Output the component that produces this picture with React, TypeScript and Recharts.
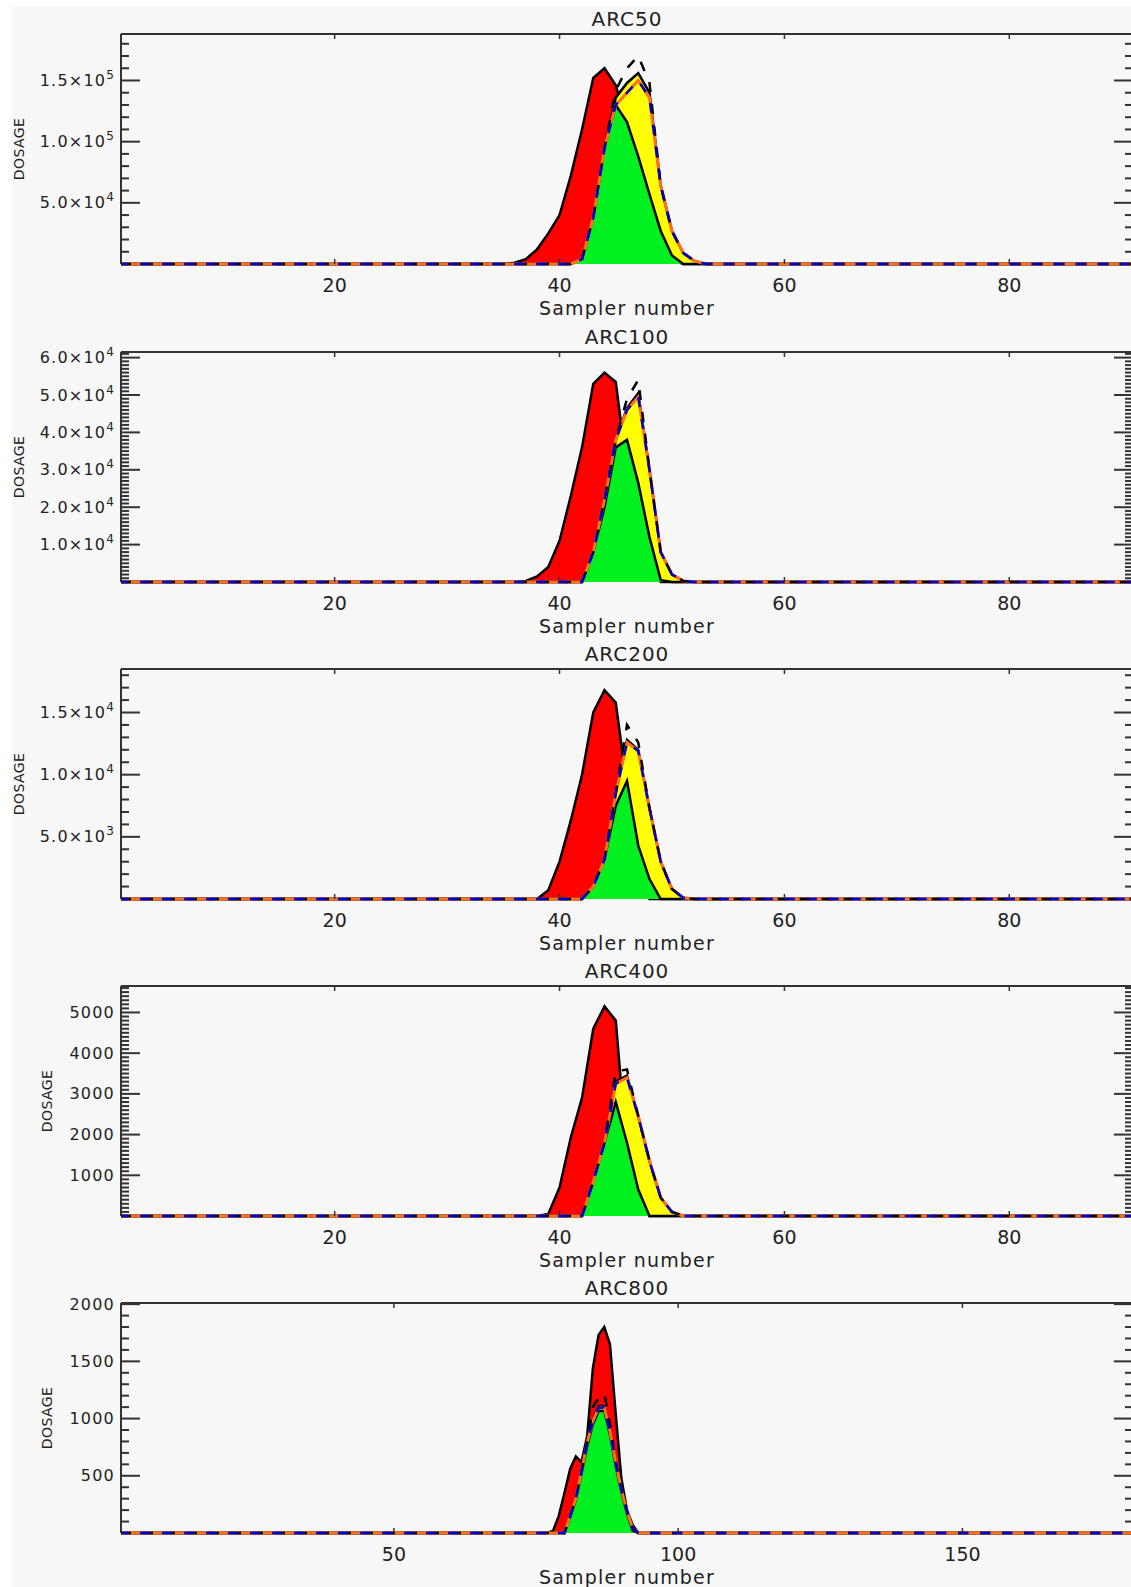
import { Area, ComposedChart, Line, XAxis, YAxis, ReferenceLine } from "recharts"

// sampler-number windows: each array starts at the given sampler, zeros elsewhere
const arc50Start = 35
const arc50Red = [0, 1000, 4000, 12000, 25000, 40000, 72000, 110000, 152000, 160000, 146000, 115000, 75000, 40000, 15000, 4000, 0, 0, 0]
const arc50Yellow = [0, 0, 0, 0, 0, 0, 0, 4000, 38000, 95000, 136000, 148000, 156000, 140000, 64000, 27000, 9000, 2500, 0]
const arc50Green = [0, 0, 0, 0, 0, 0, 0, 4000, 38000, 95000, 130000, 116000, 88000, 57000, 27000, 7000, 0, 0, 0]
const arc50DashBlack = [0, 0, 0, 0, 0, 0, 0, 4000, 38000, 95000, 142000, 160000, 170000, 148000, 64000, 27000, 9000, 2500, 0]
const arc50DashMid = [0, 0, 0, 0, 0, 0, 0, 4000, 38000, 95000, 130000, 140000, 150000, 136000, 64000, 27000, 9000, 2500, 0]

const arc100Start = 35
const arc100Red = [0, 0, 300, 1500, 4000, 11000, 23000, 36000, 53000, 56000, 53500, 30000, 15000, 4000, 0, 0, 0, 0, 0]
const arc100Yellow = [0, 0, 0, 0, 0, 0, 0, 0, 8000, 22000, 38000, 46500, 50500, 30000, 8000, 2000, 300, 0, 0]
const arc100Green = [0, 0, 0, 0, 0, 0, 0, 0, 8000, 20000, 36000, 38000, 26500, 12000, 500, 0, 0, 0, 0]
const arc100DashBlack = [0, 0, 0, 0, 0, 0, 0, 0, 8000, 22000, 38000, 49000, 54000, 30000, 8000, 2000, 300, 0, 0]
const arc100DashMid = [0, 0, 0, 0, 0, 0, 0, 0, 8000, 22000, 38000, 46000, 49500, 30000, 8000, 2000, 300, 0, 0]

const arc200Start = 35
const arc200Red = [0, 0, 0, 0, 700, 3000, 6300, 10000, 15000, 16800, 15800, 9000, 3000, 0, 0, 0, 0, 0, 0]
const arc200Yellow = [0, 0, 0, 0, 0, 0, 0, 0, 1000, 3200, 8500, 12800, 12000, 7300, 3000, 800, 100, 0, 0]
const arc200Green = [0, 0, 0, 0, 0, 0, 0, 0, 1000, 3200, 7500, 9500, 4300, 1600, 0, 0, 0, 0, 0]
const arc200DashBlack = [0, 0, 0, 0, 0, 0, 0, 0, 1000, 3200, 8500, 14000, 12600, 7300, 3000, 800, 100, 0, 0]
const arc200DashMid = [0, 0, 0, 0, 0, 0, 0, 0, 1000, 3200, 8500, 12600, 11900, 7300, 3000, 800, 100, 0, 0]

const arc400Start = 35
const arc400Red = [0, 0, 0, 0, 50, 700, 1930, 2900, 4600, 5150, 4800, 1500, 300, 0, 0, 0, 0, 0, 0]
const arc400Yellow = [0, 0, 0, 0, 0, 0, 0, 0, 850, 1800, 3300, 3450, 2450, 1350, 450, 100, 0, 0, 0]
const arc400Green = [0, 0, 0, 0, 0, 0, 0, 0, 850, 1800, 2800, 1800, 650, 0, 0, 0, 0, 0, 0]
const arc400DashBlack = [0, 0, 0, 0, 0, 0, 0, 0, 850, 1800, 3550, 3600, 2450, 1350, 450, 100, 0, 0, 0]
const arc400DashMid = [0, 0, 0, 0, 0, 0, 0, 0, 850, 1800, 3250, 3400, 2450, 1350, 450, 100, 0, 0, 0]

const arc800Start = 76
const arc800Red = [0, 0, 20, 150, 350, 560, 670, 620, 850, 1440, 1730, 1800, 1650, 1050, 480, 200, 70, 0, 0]
const arc800Yellow = [0, 0, 0, 0, 0, 150, 300, 540, 790, 990, 1110, 1110, 900, 620, 380, 190, 40, 0, 0]
const arc800Green = [0, 0, 0, 0, 0, 140, 290, 520, 760, 950, 1065, 1070, 860, 590, 360, 170, 20, 0, 0]
const arc800DashBlack = [0, 0, 0, 0, 0, 150, 300, 540, 790, 1100, 1180, 1220, 950, 620, 380, 190, 40, 0, 0]
const arc800DashMid = [0, 0, 0, 0, 0, 150, 300, 540, 790, 980, 1090, 1100, 890, 620, 380, 190, 40, 0, 0]

// axis ticks
const xTicksShort = [20, 40, 60, 80]
const xTicksLong = [50, 100, 150]

const arc50YLabels = [
  { value: 50000, mant: "5.0×10", exp: "4" },
  { value: 100000, mant: "1.0×10", exp: "5" },
  { value: 150000, mant: "1.5×10", exp: "5" },
]
const arc100YLabels = [
  { value: 10000, mant: "1.0×10", exp: "4" },
  { value: 20000, mant: "2.0×10", exp: "4" },
  { value: 30000, mant: "3.0×10", exp: "4" },
  { value: 40000, mant: "4.0×10", exp: "4" },
  { value: 50000, mant: "5.0×10", exp: "4" },
  { value: 60000, mant: "6.0×10", exp: "4" },
]
const arc200YLabels = [
  { value: 5000, mant: "5.0×10", exp: "3" },
  { value: 10000, mant: "1.0×10", exp: "4" },
  { value: 15000, mant: "1.5×10", exp: "4" },
]
const arc400YLabels = [
  { value: 1000, mant: "1000", exp: "" },
  { value: 2000, mant: "2000", exp: "" },
  { value: 3000, mant: "3000", exp: "" },
  { value: 4000, mant: "4000", exp: "" },
  { value: 5000, mant: "5000", exp: "" },
]
const arc800YLabels = [
  { value: 500, mant: "500", exp: "" },
  { value: 1000, mant: "1000", exp: "" },
  { value: 1500, mant: "1500", exp: "" },
  { value: 2000, mant: "2000", exp: "" },
]

type YLabel = { value: number; mant: string; exp: string }
type Panel = {
  title: string
  start: number
  red: number[]
  yellow: number[]
  green: number[]
  dashBlack: number[]
  dashMid: number[]
  xDomain: [number, number]
  xTicks: number[]
  yMax: number
  yMinor: number
  yLabels: YLabel[]
  top: number
  dosageX: number
}

const panels: Panel[] = [
  { title: "ARC50", start: arc50Start, red: arc50Red, yellow: arc50Yellow, green: arc50Green, dashBlack: arc50DashBlack, dashMid: arc50DashMid, xDomain: [1, 91], xTicks: xTicksShort, yMax: 188000, yMinor: 10000, yLabels: arc50YLabels, top: 34, dosageX: 19 },
  { title: "ARC100", start: arc100Start, red: arc100Red, yellow: arc100Yellow, green: arc100Green, dashBlack: arc100DashBlack, dashMid: arc100DashMid, xDomain: [1, 91], xTicks: xTicksShort, yMax: 61500, yMinor: 1000, yLabels: arc100YLabels, top: 352, dosageX: 19 },
  { title: "ARC200", start: arc200Start, red: arc200Red, yellow: arc200Yellow, green: arc200Green, dashBlack: arc200DashBlack, dashMid: arc200DashMid, xDomain: [1, 91], xTicks: xTicksShort, yMax: 18500, yMinor: 1000, yLabels: arc200YLabels, top: 669, dosageX: 19 },
  { title: "ARC400", start: arc400Start, red: arc400Red, yellow: arc400Yellow, green: arc400Green, dashBlack: arc400DashBlack, dashMid: arc400DashMid, xDomain: [1, 91], xTicks: xTicksShort, yMax: 5650, yMinor: 100, yLabels: arc400YLabels, top: 986, dosageX: 47 },
  { title: "ARC800", start: arc800Start, red: arc800Red, yellow: arc800Yellow, green: arc800Green, dashBlack: arc800DashBlack, dashMid: arc800DashMid, xDomain: [2, 180], xTicks: xTicksLong, yMax: 2010, yMinor: 100, yLabels: arc800YLabels, top: 1303, dosageX: 47 },
]

const PLOT_LEFT = 121
const PLOT_RIGHT = 1133
const PLOT_H = 230
const MARGIN_TOP = 34
const CHART_W = 1140
const CHART_H = 324
const FONT = "'DejaVu Sans', sans-serif"
const AXIS = "#333"

function buildRows(p: Panel) {
  const rows = []
  for (let n = p.xDomain[0]; n <= p.xDomain[1]; n++) {
    const i = n - p.start
    rows.push({
      n,
      red: p.red[i] ?? 0,
      yellow: p.yellow[i] ?? 0,
      green: p.green[i] ?? 0,
      dashBlack: p.dashBlack[i] ?? 0,
      dashMid: p.dashMid[i] ?? 0,
    })
  }
  return rows
}

function yTickValues(p: Panel) {
  const t: number[] = []
  for (let v = p.yMinor; v <= p.yMax; v += p.yMinor) t.push(v)
  return t
}

function YTick(props: any) {
  const { y, payload, labels } = props
  const lbl = (labels as YLabel[]).find((l) => l.value === payload.value)
  const len = lbl ? 19 : 8
  return (
    <g>
      <line x1={PLOT_LEFT} x2={PLOT_LEFT + len} y1={y} y2={y} stroke={AXIS} strokeWidth={2} />
      <line x1={PLOT_RIGHT - len} x2={PLOT_RIGHT} y1={y} y2={y} stroke={AXIS} strokeWidth={2} />
      {lbl && (
        <text x={PLOT_LEFT - 6} y={y + 5.5} textAnchor="end" fontSize={16} letterSpacing={1.2} fill="#222" fontFamily={FONT}>
          {lbl.mant}
          {lbl.exp && (
            <tspan dy={-7} fontSize={12}>
              {lbl.exp}
            </tspan>
          )}
        </text>
      )}
    </g>
  )
}

function XTick(props: any) {
  const { x, payload } = props
  const bottom = MARGIN_TOP + PLOT_H
  return (
    <g>
      <line x1={x} x2={x} y1={bottom} y2={bottom - 5} stroke={AXIS} strokeWidth={1.5} />
      <line x1={x} x2={x} y1={MARGIN_TOP} y2={MARGIN_TOP + 5} stroke={AXIS} strokeWidth={1.5} />
      <text x={x} y={bottom + 28} textAnchor="middle" fontSize={19} fill="#222" fontFamily={FONT}>
        {payload.value}
      </text>
    </g>
  )
}

function DosagePanel({ p }: { p: Panel }) {
  const rows = buildRows(p)
  const cx = (PLOT_LEFT + PLOT_RIGHT) / 2
  return (
    <div style={{ position: "absolute", left: 0, top: p.top - MARGIN_TOP, width: CHART_W, height: CHART_H }}>
      <ComposedChart width={CHART_W} height={CHART_H} data={rows} margin={{ top: MARGIN_TOP, right: CHART_W - PLOT_RIGHT, bottom: 0, left: 0 }}>
        <XAxis
          dataKey="n"
          type="number"
          domain={p.xDomain}
          ticks={p.xTicks}
          interval={0}
          height={CHART_H - MARGIN_TOP - PLOT_H}
          tickSize={0}
          tickMargin={0}
          axisLine={false}
          tick={(t: any) => <XTick {...t} />}
        />
        <YAxis
          type="number"
          domain={[0, p.yMax]}
          ticks={yTickValues(p)}
          interval={0}
          width={PLOT_LEFT}
          tickSize={0}
          tickMargin={0}
          axisLine={{ stroke: AXIS, strokeWidth: 2 }}
          tick={(t: any) => <YTick {...t} labels={p.yLabels} />}
        />
        <ReferenceLine y={p.yMax} stroke={AXIS} strokeWidth={2} />
        <Area type="linear" dataKey="red" fill="#ff0000" fillOpacity={1} stroke="#000" strokeWidth={2.5} isAnimationActive={false} dot={false} activeDot={false} />
        <Area type="linear" dataKey="yellow" fill="#ffff00" fillOpacity={1} stroke="#000" strokeWidth={2.5} isAnimationActive={false} dot={false} activeDot={false} />
        <Area type="linear" dataKey="green" fill="#00f020" fillOpacity={1} stroke="#000" strokeWidth={2.5} isAnimationActive={false} dot={false} activeDot={false} />
        <Line type="linear" dataKey="dashMid" stroke="#ff6f20" strokeWidth={3} dot={false} activeDot={false} isAnimationActive={false} />
        <Line type="linear" dataKey="dashBlack" stroke="#000" strokeWidth={2.5} strokeDasharray="10 12" dot={false} activeDot={false} isAnimationActive={false} />
        <Line type="linear" dataKey="dashMid" stroke="#0000cc" strokeWidth={2.5} strokeDasharray="10 12" strokeDashoffset={3} dot={false} activeDot={false} isAnimationActive={false} />
      </ComposedChart>
      <svg width={CHART_W} height={CHART_H} style={{ position: "absolute", left: 0, top: 0, pointerEvents: "none" }}>
        <text x={cx} y={MARGIN_TOP - 8} textAnchor="middle" fontSize={20} letterSpacing={1} fill="#222" fontFamily={FONT}>
          {p.title}
        </text>
        <text x={cx} y={MARGIN_TOP + PLOT_H + 51} textAnchor="middle" fontSize={19} letterSpacing={1.2} fill="#222" fontFamily={FONT}>
          Sampler number
        </text>
        <text
          x={p.dosageX}
          y={MARGIN_TOP + PLOT_H / 2}
          transform={`rotate(-90 ${p.dosageX} ${MARGIN_TOP + PLOT_H / 2})`}
          textAnchor="middle"
          dominantBaseline="central"
          fontSize={14}
          letterSpacing={0.4}
          fill="#222"
          fontFamily={FONT}
        >
          DOSAGE
        </text>
      </svg>
    </div>
  )
}

export default function App() {
  return (
    <div style={{ position: "relative", width: 1131, height: 1587, overflow: "hidden", background: "#fff" }}>
      <style>{"body{margin:0;overflow:hidden}"}</style>
      <div style={{ position: "absolute", left: 12, top: 7, right: 0, bottom: 0, background: "#f7f7f7" }} />
      {panels.map((p) => (
        <DosagePanel key={p.title} p={p} />
      ))}
    </div>
  )
}
